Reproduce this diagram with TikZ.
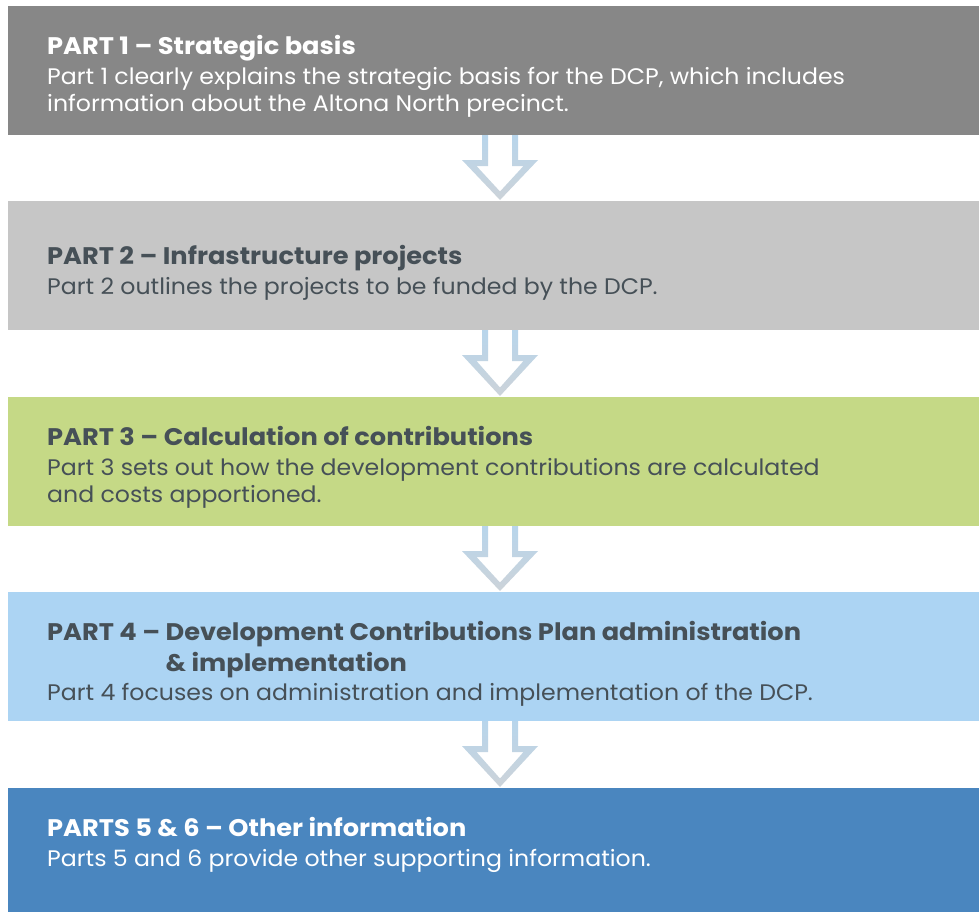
\documentclass[tikz,border=0pt]{standalone}
\usepackage{fontspec}
\setmainfont{Poppins}
\newfontfamily\headfont[FakeStretch=1.07]{Poppins}
\newfontfamily\bodyfont[FakeStretch=1.05]{Poppins}
\usetikzlibrary{calc}
\definecolor{boxA}{HTML}{878787}
\definecolor{boxB}{HTML}{C6C6C6}
\definecolor{boxC}{HTML}{C5D986}
\definecolor{boxD}{HTML}{ACD4F3}
\definecolor{boxE}{HTML}{4A86BF}
\definecolor{darktxt}{HTML}{465057}
\definecolor{arrTop}{HTML}{B7D5EC}
\definecolor{arrBot}{HTML}{CCD3D9}
\tikzset{
  box/.style={draw=none, rectangle, anchor=north west, minimum width=971pt, inner sep=0pt, outer sep=0pt},
  headtxt/.style={anchor=base west, inner sep=0pt, font=\headfont\fontsize{24}{28}\selectfont\bfseries},
  bodytxt/.style={anchor=base west, inner sep=0pt, font=\bodyfont\fontsize{22.5}{27}\selectfont},
}
% #1 = bottom of upper box, #2 = top of lower box
\newcommand{\flowarrow}[2]{%
  \shade[top color=arrTop, bottom color=arrBot, even odd rule]
    (482,#1-1) -- (482,#1+25) -- (462,#1+25) -- (500,#2-1) -- (538,#1+25) -- (518,#1+25) -- (518,#1-1) -- cycle
    (488,#1-2) -- (488,#1+31) -- (476.5,#1+31) -- (500,#2-9.5) -- (523.5,#1+31) -- (512,#1+31) -- (512,#1-2) -- cycle;}
\begin{document}
\begin{tikzpicture}[x=1pt,y=-1pt]
\useasboundingbox (0,0) rectangle (979,911);
\fill[white] (0,0) rectangle (979,911);
% arrows first
\flowarrow{135}{201}
\flowarrow{330}{397}
\flowarrow{526}{592}
\flowarrow{721}{788}
% boxes
\node[box, fill=boxA, minimum height=129pt] (b1) at (8,6) {};
\node[box, fill=boxB, minimum height=129pt] (b2) at (8,201) {};
\node[box, fill=boxC, minimum height=129pt] (b3) at (8,397) {};
\node[box, fill=boxD, minimum height=129pt] (b4) at (8,592) {};
\node[box, fill=boxE, minimum height=124pt] (b5) at (8,788) {};
% texts
\node[headtxt, text=white] (h1) at (47,54) {PART 1 – Strategic basis};
\node[bodytxt, text=white] (p1a) at (47,84) {Part 1 clearly explains the strategic basis for the DCP, which includes};
\node[bodytxt, text=white] (p1b) at (47,111) {information about the Altona North precinct.};

\node[headtxt, text=darktxt] (h2) at (47,264) {PART 2 – Infrastructure projects};
\node[bodytxt, text=darktxt] (p2a) at (47,294) {Part 2 outlines the projects to be funded by the DCP.};

\node[headtxt, text=darktxt] (h3) at (47,445) {PART 3 – Calculation of contributions};
\node[bodytxt, text=darktxt] (p3a) at (47,475) {Part 3 sets out how the development contributions are calculated};
\node[bodytxt, text=darktxt] (p3b) at (47,502) {and costs apportioned.};

\node[headtxt, text=darktxt] (h4a) at (47,640) {PART 4 – Development Contributions Plan administration};
\node[headtxt, text=darktxt] (h4b) at (47,671) {\phantom{PART 4 – }\& implementation};
\node[bodytxt, text=darktxt] (p4a) at (47,700) {Part 4 focuses on administration and implementation of the DCP.};

\node[headtxt, text=white] (h5) at (47,836) {PARTS 5 \& 6 – Other information};
\node[bodytxt, text=white] (p5a) at (47,866) {Parts 5 and 6 provide other supporting information.};
\end{tikzpicture}
\end{document}
